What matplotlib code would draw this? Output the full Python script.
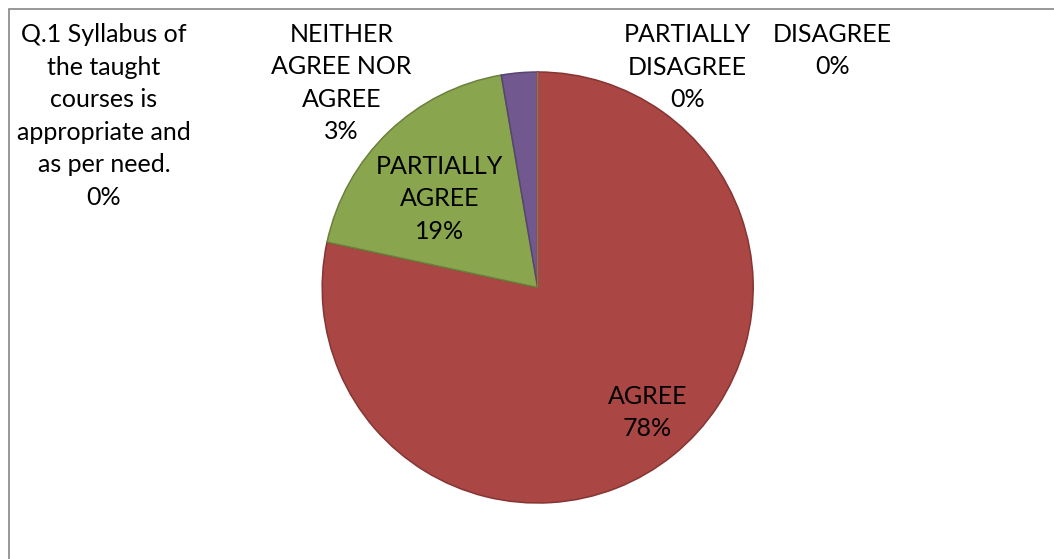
import numpy as np
import matplotlib.pyplot as plt
from matplotlib.patches import Rectangle

plt.rcParams['font.family'] = ['Lato', 'DejaVu Sans']

# responses for Q.1
categories = ["Q.1 Syllabus of\nthe taught\ncourses is\nappropriate and\nas per need.",
              "AGREE", "PARTIALLY\nAGREE", "NEITHER\nAGREE NOR\nAGREE",
              "PARTIALLY\nDISAGREE", "DISAGREE"]
counts = [0, 58, 14, 2, 0, 0]

colors = ["#4572A7", "#AA4643", "#89A54E", "#71588F", "#4198AF", "#DB843D"]
edges = ["#35577F", "#853533", "#6B803C", "#574470", "#317587", "#B0662C"]
# label centres, in pie radius units (moved by hand like in the original)
label_xy = [(-2.013, 0.795), (0.508, -0.581), (-0.454, 0.412),
            (-0.910, 0.949), (0.694, 1.023), (1.369, 1.100)]

W, H = 1054, 559
cx, cy, r = 537.7, 287.5, 215.5

fig = plt.figure(figsize=(W / 100, H / 100), dpi=100)
fig.patches.append(Rectangle((8.5 / W, -0.1), 1.2, 1.1 - 9.5 / H, transform=fig.transFigure,
                             fill=False, edgecolor="#868686", lw=1.2))

ax = fig.add_axes([(cx - r) / W, (H - cy - r) / H, 2 * r / W, 2 * r / H])
wedges, _ = ax.pie(counts, colors=colors, startangle=90, counterclock=False, radius=1,
                   wedgeprops=dict(linewidth=1.1))
for w, ec in zip(wedges, edges):
    w.set_edgecolor(ec)
ax.set_xlim(-1, 1)
ax.set_ylim(-1, 1)
ax.axis("off")

total = sum(counts)
for name, c, (x, y) in zip(categories, counts, label_xy):
    pct = round(100 * c / total)
    ax.text(x, y, f"{name}\n{pct}%", ha="center", va="center", fontsize=18,
            linespacing=1.5, color="black")

fig.savefig("out.png", dpi=100)
